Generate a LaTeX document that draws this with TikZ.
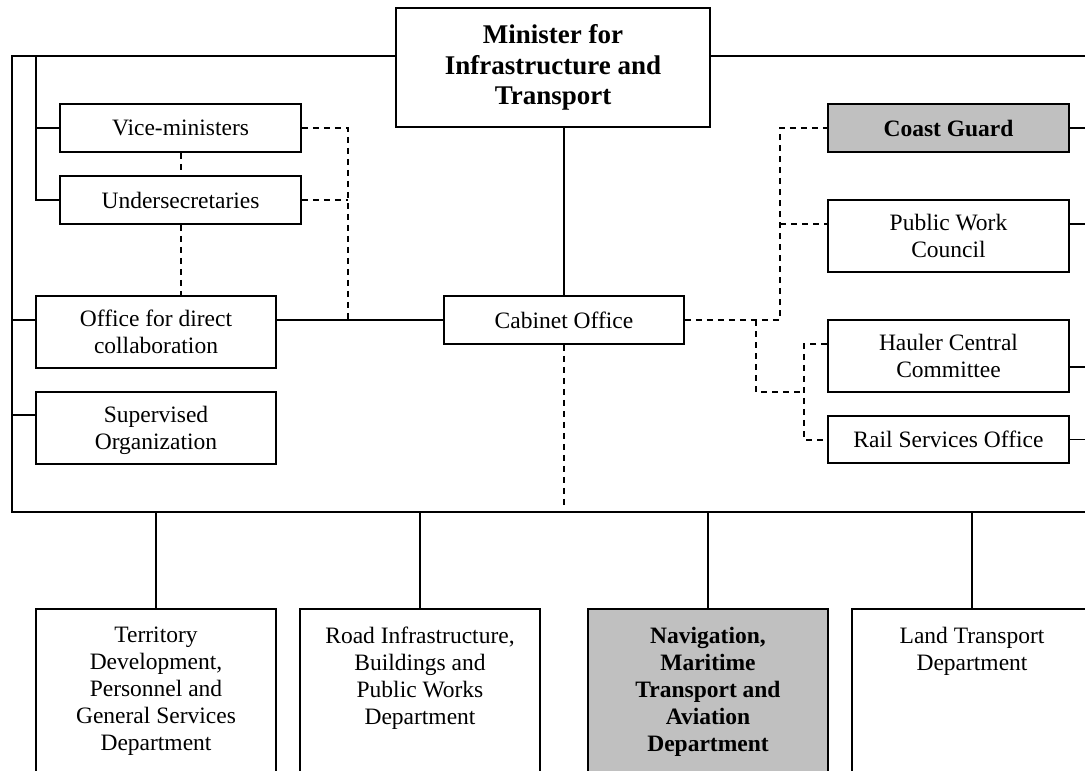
\documentclass[tikz,border=0pt]{standalone}
\usepackage{fontspec}
\setmainfont{Liberation Serif}
\definecolor{boxgray}{RGB}{192,192,192}
\begin{document}
\begin{tikzpicture}[x=1pt, y=-1pt, line width=1.8pt,
  txt/.style={font=\fontsize{23.5}{27}\selectfont},
  box/.style={draw, line width=1.8pt, inner sep=0pt, align=center, minimum width=241pt, txt},
  hl/.style={fill=boxgray, font=\fontsize{23.5}{27}\selectfont\bfseries},
  dept/.style={draw, line width=1.8pt, inner sep=0pt, minimum width=240pt, minimum height=200pt, anchor=north},
  depttext/.style={anchor=north, inner sep=0pt, align=center, txt},
  dep/.style={line width=2pt, dash pattern=on 6pt off 5pt}]
\useasboundingbox (0,0) rectangle (1085,771);

% ministry head and staff offices
\node[box, minimum width=314pt, minimum height=119pt, font=\fontsize{27}{30.5}\selectfont\bfseries] (min) at (553,67.5) {Minister for\\Infrastructure and\\Transport};
\node[box, minimum height=48pt] (vm) at (180.5,128) {Vice-ministers};
\node[box, minimum height=48pt] (us) at (180.5,200) {Undersecretaries};
\node[box, minimum width=240pt, minimum height=72pt] (odc) at (156,332) {Office for direct\\collaboration};
\node[box, minimum width=240pt, minimum height=72pt, text depth=0pt] (sup) at (156,428) {Supervised\\Organization};
\node[box, minimum width=240pt, minimum height=48pt] (cab) at (564,320) {Cabinet Office};

% bodies on the right
\node[box, hl, minimum height=48pt] (cg) at (948.5,128) {Coast Guard};
\node[box, minimum height=72pt] (pwc) at (948.5,236) {Public Work\\Council};
\node[box, minimum height=72pt] (hcc) at (948.5,356) {Hauler Central\\Committee};
\node[box, minimum height=47pt] (rso) at (948.5,439.5) {Rail Services Office};

% departments
\node[dept] (d1) at (156,608) {};
\node[dept] (d2) at (420,608) {};
\node[dept, fill=boxgray] (d3) at (708,608) {};
\node[dept] (d4) at (972,608) {};
\node[depttext] (d1t) at ([yshift=-18.5pt]d1.north) {Territory\\Development,\\Personnel and\\General Services\\Department};
\node[depttext] (d2t) at ([yshift=-18.5pt]d2.north) {Road Infrastructure,\\Buildings and\\Public Works\\Department};
\node[depttext, font=\fontsize{23.5}{27}\selectfont\bfseries] (d3t) at ([yshift=-18.5pt]d3.north) {Navigation,\\Maritime\\Transport and\\Aviation\\Department};
\node[depttext] (d4t) at ([yshift=-18.5pt]d4.north) {Land Transport\\Department};

% frame and row coordinates
\coordinate (tl) at (12,56);
\coordinate (bl) at (12,512);
\coordinate (br) at (1085,512);
\coordinate (tr) at (1085,56);
\coordinate (il) at (36,56);
\coordinate (sv) at (12,415);
\coordinate (r224) at (0,224);
\coordinate (r344) at (0,344);
\coordinate (r367) at (0,367);
\coordinate (dl) at (348,320);
\coordinate (dr) at (780,320);
\coordinate (dm) at (756,320);
\coordinate (dn) at (804,392);
\coordinate (cabend) at (564,505);

% solid reporting lines
\draw (min.west |- tl) -- (tl) -- (bl) -- (br);
\draw (min.east |- tr) -- (tr);
\draw (il) -- (il |- us.west) -- (us.west);
\draw (il |- vm.west) -- (vm.west);
\draw (bl |- cab.west) -- (odc.west |- cab.west);
\draw (sv) -- (sv -| sup.west);
\draw (odc.east |- cab.west) -- (cab.west);
\draw (cab.north) -- (cab.north |- min.south);
\draw (cg.east) -- (cg.east -| tr);
\draw (pwc.east |- r224) -- (tr |- r224);
\draw (hcc.east |- r367) -- (tr |- r367);
\draw (rso.east) -- (rso.east -| tr);
\draw (d1.north) -- (d1.north |- bl);
\draw (d2.north) -- (d2.north |- bl);
\draw (d3.north) -- (d3.north |- bl);
\draw (d4.north) -- (d4.north |- bl);

% dashed functional links
\draw[dep] (vm.south) -- (us.north);
\draw[dep] (us.south) -- (us.south |- odc.north);
\draw[dep] (vm.east) -- (vm.east -| dl) -- (dl);
\draw[dep] (us.east) -- (us.east -| dl);
\draw[dep] (cab.east) -- (dr) -- (dr |- cg.west) -- (cg.west);
\draw[dep] (dr |- r224) -- (pwc.west |- r224);
\draw[dep] (dm) -- (dm |- dn) -- (dn);
\draw[dep] (hcc.west |- r344) -- (r344 -| dn) -- (dn |- rso.west) -- (rso.west);
\draw[dep] (cab.south) -- (cabend);
\end{tikzpicture}
\end{document}
